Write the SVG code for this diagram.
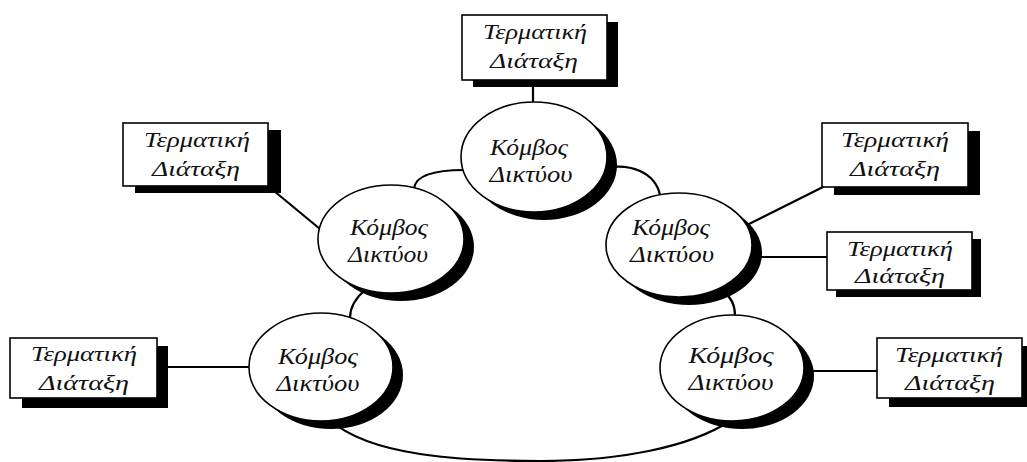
<svg xmlns="http://www.w3.org/2000/svg" width="1027" height="462" viewBox="0 0 1027 462">
  <style>
    .wire { fill: none; stroke: #000; stroke-width: 2.2; stroke-linecap: round; }
    .shade { fill: #000; stroke: none; }
    .face { fill: #fff; stroke: #000; stroke-width: 1.6; }
    .lbl { font-family: "Liberation Serif", "DejaVu Serif", serif; font-style: italic; fill: #111; text-anchor: middle; }
    .node-lbl { font-size: 24px; }
    .term-lbl { font-size: 20px; }
  </style>
  <rect width="1027" height="462" fill="#fff"/>

  <!-- links: ring between network nodes, and terminal attachments -->
  <g id="connectors">
    <path class="wire" d="M414,188 C416,176 432,170 464,170"/>
    <path class="wire" d="M605,168 C630,163 655,172 660,195"/>
    <path class="wire" d="M365,290 C358,296 350,305 350,318"/>
    <path class="wire" d="M722,290 C730,296 735,305 735,315"/>
    <path class="wire" d="M330,420 C370,456 460,461 540,461 C620,461 690,447 730,421"/>
    <path class="wire" d="M533,80 L533,104"/>
    <path class="wire" d="M268,186 L320,229" stroke-width="3"/>
    <path class="wire" d="M823,187 L745,226"/>
    <path class="wire" d="M750,257 L827,257"/>
    <path class="wire" d="M157,367 L250,367" stroke-width="3"/>
    <path class="wire" d="M800,371 L877,371"/>
  </g>

  <!-- network nodes -->
  <g id="node-top">
    <ellipse class="shade" cx="544" cy="165" rx="73" ry="55"/>
    <ellipse class="face" cx="534" cy="157" rx="73" ry="55"/>
    <text class="lbl node-lbl" x="529" y="155" textLength="78" lengthAdjust="spacingAndGlyphs">Κόμβος</text>
    <text class="lbl node-lbl" x="531" y="182" textLength="83" lengthAdjust="spacingAndGlyphs">Δικτύου</text>
  </g>
  <g id="node-left">
    <ellipse class="shade" cx="401" cy="247" rx="73" ry="54"/>
    <ellipse class="face" cx="391" cy="239" rx="73" ry="54"/>
    <text class="lbl node-lbl" x="389" y="235" textLength="78" lengthAdjust="spacingAndGlyphs">Κόμβος</text>
    <text class="lbl node-lbl" x="388" y="262" textLength="80" lengthAdjust="spacingAndGlyphs">Δικτύου</text>
  </g>
  <g id="node-right">
    <ellipse class="shade" cx="689" cy="253" rx="73" ry="52"/>
    <ellipse class="face" cx="679" cy="245" rx="73" ry="52"/>
    <text class="lbl node-lbl" x="671" y="235" textLength="78" lengthAdjust="spacingAndGlyphs">Κόμβος</text>
    <text class="lbl node-lbl" x="672" y="262" textLength="84" lengthAdjust="spacingAndGlyphs">Δικτύου</text>
  </g>
  <g id="node-bottom-left">
    <ellipse class="shade" cx="331" cy="375" rx="72" ry="54"/>
    <ellipse class="face" cx="321" cy="367" rx="72" ry="54"/>
    <text class="lbl node-lbl" x="318" y="364" textLength="80" lengthAdjust="spacingAndGlyphs">Κόμβος</text>
    <text class="lbl node-lbl" x="318" y="391" textLength="83" lengthAdjust="spacingAndGlyphs">Δικτύου</text>
  </g>
  <g id="node-bottom-right">
    <ellipse class="shade" cx="742" cy="376" rx="72" ry="53"/>
    <ellipse class="face" cx="732" cy="368" rx="72" ry="53"/>
    <text class="lbl node-lbl" x="731" y="363" textLength="85" lengthAdjust="spacingAndGlyphs">Κόμβος</text>
    <text class="lbl node-lbl" x="731" y="390" textLength="85" lengthAdjust="spacingAndGlyphs">Δικτύου</text>
  </g>

  <!-- terminal devices -->
  <g id="term-top">
    <rect class="shade" x="473" y="22" width="145" height="65"/>
    <rect class="face" x="462" y="15" width="145" height="65"/>
    <text class="lbl term-lbl" x="535" y="39" textLength="104" lengthAdjust="spacingAndGlyphs">Τερματική</text>
    <text class="lbl term-lbl" x="534" y="68" textLength="88" lengthAdjust="spacingAndGlyphs">Διάταξη</text>
  </g>
  <g id="term-left">
    <rect class="shade" x="135" y="130" width="146" height="63"/>
    <rect class="face" x="123" y="123" width="145" height="63"/>
    <text class="lbl term-lbl" x="197" y="147" textLength="106" lengthAdjust="spacingAndGlyphs">Τερματική</text>
    <text class="lbl term-lbl" x="196" y="176" textLength="88" lengthAdjust="spacingAndGlyphs">Διάταξη</text>
  </g>
  <g id="term-right-upper">
    <rect class="shade" x="834" y="131" width="146" height="64"/>
    <rect class="face" x="822" y="123" width="146" height="64"/>
    <text class="lbl term-lbl" x="895" y="147" textLength="108" lengthAdjust="spacingAndGlyphs">Τερματική</text>
    <text class="lbl term-lbl" x="895" y="176" textLength="90" lengthAdjust="spacingAndGlyphs">Διάταξη</text>
  </g>
  <g id="term-right-lower">
    <rect class="shade" x="836" y="239" width="145" height="58"/>
    <rect class="face" x="827" y="232" width="145" height="58"/>
    <text class="lbl term-lbl" x="900" y="256" textLength="106" lengthAdjust="spacingAndGlyphs">Τερματική</text>
    <text class="lbl term-lbl" x="900" y="283" textLength="90" lengthAdjust="spacingAndGlyphs">Διάταξη</text>
  </g>
  <g id="term-bottom-left">
    <rect class="shade" x="22" y="346" width="146" height="62"/>
    <rect class="face" x="10" y="338" width="147" height="60"/>
    <text class="lbl term-lbl" x="84" y="361" textLength="106" lengthAdjust="spacingAndGlyphs">Τερματική</text>
    <text class="lbl term-lbl" x="84" y="390" textLength="90" lengthAdjust="spacingAndGlyphs">Διάταξη</text>
  </g>
  <g id="term-bottom-right">
    <rect class="shade" x="889" y="346" width="145" height="61"/>
    <rect class="face" x="877" y="338" width="145" height="60"/>
    <text class="lbl term-lbl" x="949" y="362" textLength="108" lengthAdjust="spacingAndGlyphs">Τερματική</text>
    <text class="lbl term-lbl" x="950" y="390" textLength="90" lengthAdjust="spacingAndGlyphs">Διάταξη</text>
  </g>
</svg>
